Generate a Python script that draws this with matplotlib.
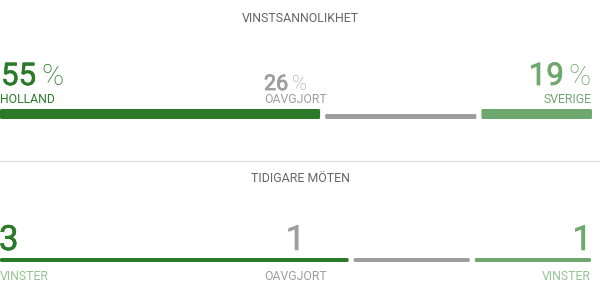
import matplotlib
matplotlib.use("Agg")
import matplotlib.pyplot as plt
from matplotlib.patches import FancyBboxPatch
import matplotlib.patheffects as pe

# ---- data ----
prob_values = [55, 26, 19]
prob_labels = ["HOLLAND", "OAVGJORT", "SVERIGE"]
meet_values = [3, 1, 1]
meet_labels = ["VINSTER", "OAVGJORT", "VINSTER"]
title_top = "VINSTSANNOLIKHET"
title_bottom = "TIDIGARE MÖTEN"

DARK = "#2a7a2a"
GRAY = "#9e9e9e"
LIGHT = "#6fa86f"
PALE = "#93c493"
TITLE = "#666666"
colors = [DARK, GRAY, LIGHT]

plt.rcParams['font.family'] = ['Roboto', 'DejaVu Sans']

fig = plt.figure(figsize=(6.0, 3.07), dpi=100)
ax = fig.add_axes([0, 0, 1, 1])
ax.set_xlim(0, 600)
ax.set_ylim(307, 0)
ax.axis("off")
renderer = fig.canvas.get_renderer()

LAB = 8.8


def med(color, lw=0.35):
    return [pe.withStroke(linewidth=lw, foreground=color)]


def text_width(t):
    bb = t.get_window_extent(renderer=renderer)
    return bb.width


def segments(values, total_w, gap):
    avail = total_w - gap * (len(values) - 1)
    s = float(sum(values))
    lefts, widths = [], []
    x = 0.0
    for v in values:
        w = avail * v / s
        lefts.append(x)
        widths.append(w)
        x += w + gap
    return lefts, widths


def rbar(x, y_bottom, w, h, color):
    p = FancyBboxPatch((x, y_bottom - h), w, h,
                       boxstyle="round,pad=0,rounding_size=1.5",
                       facecolor=color, edgecolor="none")
    ax.add_patch(p)


# ---- titles ----
ax.text(300, 18, title_top, ha="center", va="center", fontsize=8.9, color=TITLE)
ax.text(300, 179, title_bottom, ha="center", va="center", fontsize=8.9, color=TITLE)

# separator
ax.plot([0, 600], [160.5, 160.5], color="#e2e2e2", lw=1)

# ---- win probability bars ----
lefts, widths = segments(prob_values, 592, 5)
heights = [10, 5, 10]
for l, w, h, c in zip(lefts, widths, heights, colors):
    rbar(l, 119, w, h, c)

# left: HOLLAND
t = ax.text(1, 85, str(prob_values[0]), ha="left", va="baseline",
            fontsize=22.5, color=DARK, path_effects=med(DARK, 0.4))
ax.text(1 + text_width(t) + 5, 85, "%", ha="left", va="baseline",
        fontsize=21.5, color=DARK, fontweight="light")
ax.text(0, 103, prob_labels[0], ha="left", va="baseline", fontsize=LAB,
        color=DARK)

# middle: draw
t = ax.text(264, 90, str(prob_values[1]), ha="left", va="baseline",
            fontsize=15.5, color=GRAY, path_effects=med(GRAY, 0.6))
ax.text(264 + text_width(t) + 4, 90, "%", ha="left", va="baseline",
        fontsize=14.5, color=GRAY, fontweight="light")
ax.text(264, 103, prob_labels[1], ha="left", va="baseline", fontsize=LAB,
        color=GRAY)

# right: SVERIGE
tp = ax.text(591, 85, "%", ha="right", va="baseline",
             fontsize=21.5, color=LIGHT, fontweight="light")
ax.text(591 - text_width(tp) - 5, 85, str(prob_values[2]), ha="right",
        va="baseline", fontsize=22.5, color=LIGHT, path_effects=med(LIGHT, 0.6))
ax.text(591, 103, prob_labels[2], ha="right", va="baseline", fontsize=LAB,
        color=LIGHT)

# ---- previous meetings ----
lefts, widths = segments(meet_values, 591, 5)
for l, w, c in zip(lefts, widths, colors):
    rbar(l, 262, w, 4, c)

ax.text(-1, 250, str(meet_values[0]), ha="left", va="baseline",
        fontsize=25, color=DARK, path_effects=med(DARK, 0.4))
ax.text(295.5, 250, str(meet_values[1]), ha="center", va="baseline",
        fontsize=25, color=GRAY, path_effects=med(GRAY, 0.4))
ax.text(592, 250, str(meet_values[2]), ha="right", va="baseline",
        fontsize=25, color=LIGHT, path_effects=med(LIGHT, 0.4))

ax.text(0, 279.5, meet_labels[0], ha="left", va="baseline", fontsize=LAB,
        color=PALE)
ax.text(295.5, 279.5, meet_labels[1], ha="center", va="baseline", fontsize=LAB,
        color=GRAY)
ax.text(591, 279.5, meet_labels[2], ha="right", va="baseline", fontsize=LAB,
        color=PALE)

fig.savefig("out.png", dpi=100, facecolor="white")
